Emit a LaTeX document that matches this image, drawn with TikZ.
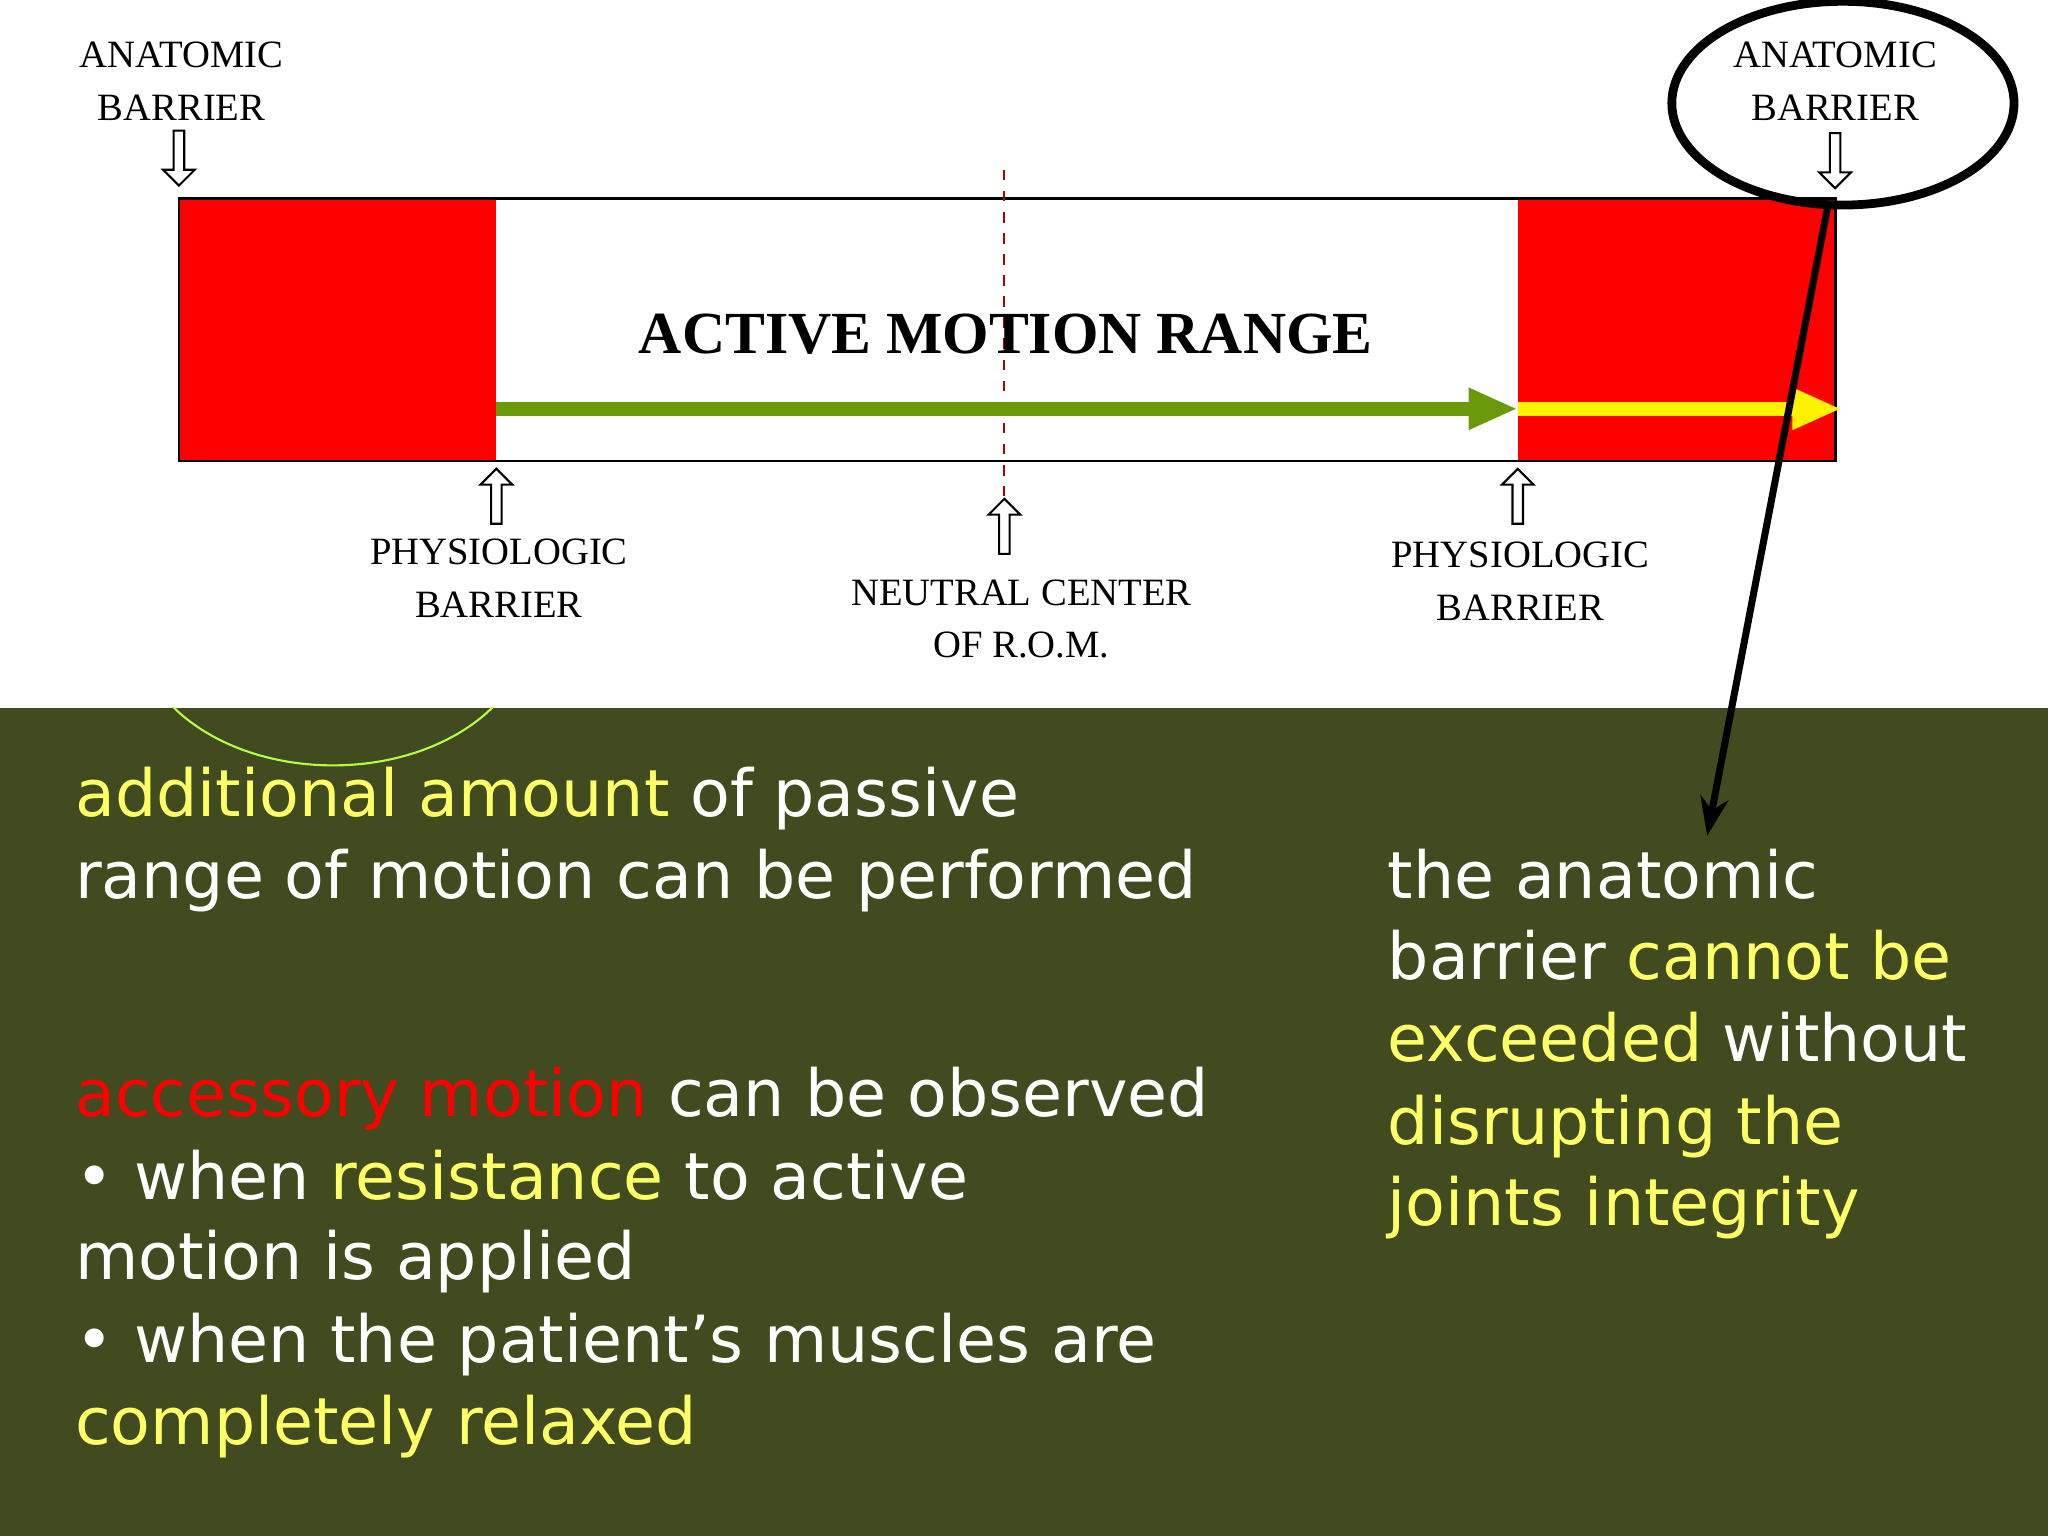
\documentclass[tikz,border=0pt]{standalone}
\usepackage{fontspec}
\setmainfont{Liberation Serif}
\newfontfamily\sansf{DejaVu Sans}
\usetikzlibrary{arrows.meta,shapes.arrows,shapes.geometric}
\definecolor{bg}{HTML}{414B1F}
\definecolor{yl}{HTML}{FFFF66}
\definecolor{grn}{HTML}{6A9A0A}
\begin{document}
\begin{tikzpicture}[x=0.013061cm,y=-0.013061cm,
  lbl/.style={font=\fontsize{11}{13}\selectfont,align=center,inner sep=0},
  hol/.style={draw=black,fill=white,single arrow,single arrow head extend=3pt,minimum height=0.55cm,minimum width=0.2cm,inner sep=1.2pt,line width=0.6pt},
  txt/.style={anchor=base west,inner sep=0,text=white,font=\sansf\fontsize{18.5}{22}\selectfont}]
\useasboundingbox (0,0) rectangle (1568,1176);
\fill[white] (0,0) rectangle (1568,542);
\fill[bg] (0,542) rectangle (1568,1176);
\begin{scope}
\clip (0,542) rectangle (600,700);
\draw[yl!70!green,line width=0.6pt] (255,480) ellipse [x radius=150,y radius=106];
\end{scope}
% bar
\node[draw=black,fill=white,minimum width=1268*0.013061cm,minimum height=201*0.013061cm,inner sep=0,line width=0.8pt] (bar) at (771,252.5) {};
\fill[red] (137,152) rectangle (380,353);
\fill[red] (1162,152) rectangle (1405,353);
\draw[line width=0.8pt] (137,152) rectangle (1405,353);
\draw[red!70!black,dashed,line width=0.6pt] (769,130) -- (769,380);
\node[font=\fontsize{17}{20}\selectfont\bfseries] (amr) at (770,256) {ACTIVE MOTION RANGE};
\coordinate (g0) at (380,313); \coordinate (g1) at (1162,313); \coordinate (y1) at (1410,313);
\draw[grn,line width=4pt,-{Triangle[length=14pt,width=11pt]}] (g0) -- (g1);
\draw[yellow,line width=4pt,-{Triangle[length=14pt,width=11pt]}] (g1) -- (y1);
% hollow arrows
\node[hol,rotate=-90] (da1) at (137,119) {};
\node[hol,rotate=-90] (da2) at (1405,121) {};
\node[hol,rotate=90] (ua1) at (380,382) {};
\node[hol,rotate=90] (ua2) at (769,405) {};
\node[hol,rotate=90] (ua3) at (1162,382) {};
% labels
\node[lbl] (l1) at (139,62) {ANATOMIC\\[2pt]BARRIER};
\node[lbl] (l2) at (1405,62) {ANATOMIC\\[2pt]BARRIER};
\node[lbl] (l3) at (382,443) {PHYSIOLOGIC\\[2pt]BARRIER};
\node[lbl] (l4) at (782,474) {NEUTRAL CENTER\\[2pt]OF R.O.M.};
\node[lbl] (l5) at (1164,445) {PHYSIOLOGIC\\[2pt]BARRIER};
\node[draw=black,line width=2.5pt,ellipse,minimum width=262*0.013061cm,minimum height=156*0.013061cm] (el) at (1411,79) {};
% text
\node[txt] (t1) at (57,625) {\textcolor{yl}{additional amount} of passive};
\node[txt] (t2) at (57,688) {range of motion can be performed};
\node[txt] (t3) at (57,855) {\textcolor{red}{accessory motion} can be observed};
\node[txt] (t4) at (57,918) {• when \textcolor{yl}{resistance} to active};
\node[txt] (t5) at (57,980) {motion is applied};
\node[txt] (t6) at (57,1043) {• when the patient’s muscles are};
\node[txt] (t7) at (57,1106) {\textcolor{yl}{completely relaxed}};
\node[txt] (r1) at (1062,688) {the anatomic};
\node[txt] (r2) at (1062,750) {barrier \textcolor{yl}{cannot be}};
\node[txt] (r3) at (1062,813) {\textcolor{yl}{exceeded} without};
\node[txt] (r4) at (1062,876) {\textcolor{yl}{disrupting the}};
\node[txt] (r5) at (1062,938) {\textcolor{yl}{joints integrity}};
\coordinate (ps) at (1400,155); \coordinate (pe) at (1307,640);
\draw[line width=2pt,-{Stealth[length=11pt,width=8pt]}] (ps) -- (pe);
\end{tikzpicture}
\end{document}
